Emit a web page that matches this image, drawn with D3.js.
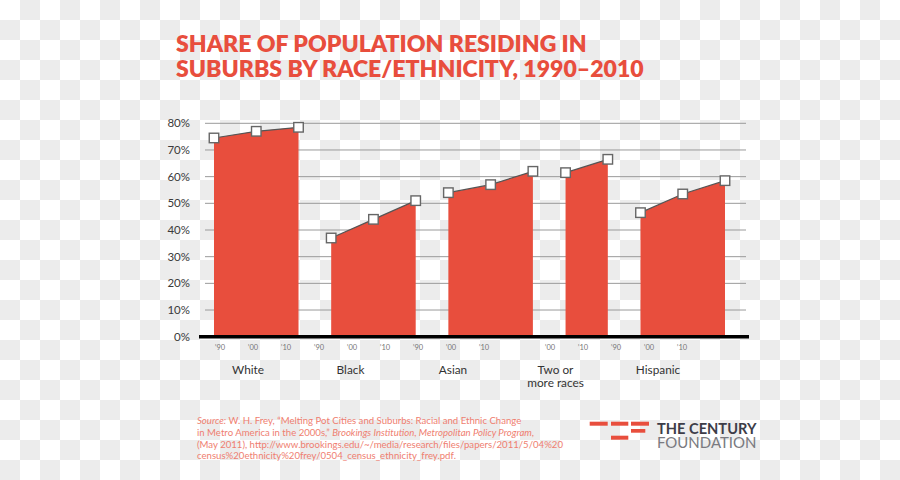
<!DOCTYPE html>
<html><head><meta charset="utf-8">
<script src="https://cdn.jsdelivr.net/npm/d3@7"></script>
<style>
html,body{margin:0;padding:0;background:#fff;}
svg{display:block;}
</style></head>
<body>
<div id="chart"></div>
<script>
// ---- data ----
const groups = ["White", "Black", "Asian", "Two or more races", "Hispanic"];
const groupLabelLines = [["White"], ["Black"], ["Asian"], ["Two or", "more races"], ["Hispanic"]];
const years = ["\u201990", "\u201900", "\u201910"];
const white = [74.5, 77, 78.5];
const black = [37, 44, 51];
const asian = [54, 57, 62];
const twoOrMore = [null, 61.5, 66.5];
const hispanic = [46.5, 53.5, 58.5];
const series = [white, black, asian, twoOrMore, hispanic];
const yTicks = [0, 10, 20, 30, 40, 50, 60, 70, 80];
const titleLines = ["SHARE OF POPULATION RESIDING IN", "SUBURBS BY RACE/ETHNICITY, 1990\u20132010"];

// ---- layout ----
const W = 900, H = 480;
const RED = "#e84e3d";
const FONT = "Lato, 'Open Sans', sans-serif";
const svg = d3.select("#chart").append("svg").attr("width", W).attr("height", H);

// checkerboard background (transparent-look)
const defs = svg.append("defs");
const pat = defs.append("pattern").attr("id", "chk").attr("patternUnits", "userSpaceOnUse")
  .attr("width", 40).attr("height", 40);
pat.append("rect").attr("width", 40).attr("height", 40).attr("fill", "#ffffff");
pat.append("rect").attr("x", 20).attr("y", 0).attr("width", 20).attr("height", 20).attr("fill", "#ececec");
pat.append("rect").attr("x", 0).attr("y", 20).attr("width", 20).attr("height", 20).attr("fill", "#ececec");
svg.append("rect").attr("width", W).attr("height", H).attr("fill", "url(#chk)");

// title
const title = svg.append("g");
titleLines.forEach((t, i) => {
  title.append("text").attr("x", 176).attr("y", 52 + i * 25)
    .attr("font-family", FONT).attr("font-weight", 800)
    .attr("font-size", 21).attr("fill", RED).text(t);
});
{
  const t0 = title.select("text").node();
  const w = t0.getComputedTextLength();
  title.selectAll("text").attr("font-size", 21 * 411 / w);
}

// y scale
const y = d3.scaleLinear().domain([0, 80]).range([336.7, 123.3]);

// grid
svg.append("g").selectAll("line").data(yTicks.filter(d => d > 0)).join("line")
  .attr("x1", 205).attr("x2", 746)
  .attr("y1", d => y(d)).attr("y2", d => y(d))
  .attr("stroke", "#9a9a9a").attr("stroke-width", 1);

// y tick labels
svg.append("g").selectAll("text").data(yTicks).join("text")
  .attr("x", 190).attr("y", d => y(d)).attr("dy", "0.35em")
  .attr("text-anchor", "end")
  .attr("font-family", FONT).attr("font-size", 11.5)
  .attr("fill", "#3a3a3a").text(d => d + "%");

// x positions for marks: within a group step 1 unit, between groups a gap
const gapUnits = 0.773;
const pts = [];
let u = 0, first = true;
series.forEach((vals, g) => {
  let started = false;
  vals.forEach((v, i) => {
    if (v == null) return;
    if (!started) { if (!first) u += gapUnits; started = true; }
    else u += 1;
    first = false;
    pts.push({ g, i, v, u });
  });
});
const x = d3.scaleLinear().domain([0, u]).range([214, 725]);

// areas + lines
const area = d3.area().x(d => x(d.u)).y0(y(0)).y1(d => y(d.v));
const line = d3.line().x(d => x(d.u)).y(d => y(d.v));
const marks = svg.append("g");
groups.forEach((name, g) => {
  const gp = pts.filter(p => p.g === g);
  marks.append("path").datum(gp).attr("d", area).attr("fill", RED);
  marks.append("path").datum(gp).attr("d", line).attr("fill", "none")
    .attr("stroke", "#555").attr("stroke-width", 1.2);
});

// baseline
svg.append("line").attr("x1", 199).attr("x2", 749).attr("y1", y(0)).attr("y2", y(0))
  .attr("stroke", "#000").attr("stroke-width", 3.4);

// square markers
const S = 9.5;
marks.selectAll("rect.m").data(pts).join("rect").attr("class", "m")
  .attr("x", d => x(d.u) - S / 2).attr("y", d => y(d.v) - S / 2)
  .attr("width", S).attr("height", S)
  .attr("fill", "#fff").attr("stroke", "#666").attr("stroke-width", 1.4);

// year tick labels: point scale over every group/year slot
const keys = [];
groups.forEach((g, gi) => years.forEach((yr, yi) => keys.push(gi + "-" + yi)));
const xl = d3.scalePoint().domain(keys).range([220, 682]);
const yearLabels = [];
series.forEach((vals, gi) => vals.forEach((v, yi) => { if (v != null) yearLabels.push({ gi, yi }); }));
svg.append("g").selectAll("text").data(yearLabels).join("text")
  .attr("x", d => xl(d.gi + "-" + d.yi)).attr("y", 350)
  .attr("text-anchor", "middle")
  .attr("font-family", FONT).attr("font-size", 7.5)
  .attr("fill", "#777").text(d => years[d.yi]);

// category labels
const xc = d3.scalePoint().domain(groups).range([248, 658]);
const cat = svg.append("g");
groupLabelLines.forEach((lines, gi) => {
  lines.forEach((l, li) => {
    cat.append("text").attr("x", xc(groups[gi])).attr("y", 374 + li * 13)
      .attr("text-anchor", "middle")
      .attr("font-family", FONT).attr("font-size", 11.8)
      .attr("fill", "#333").text(l);
  });
});

// source note
const src = svg.append("text").attr("font-family", FONT)
  .attr("font-size", 9.6).attr("fill", "#ef7e70");
const srcLines = [
  [["Source:", true], [" W. H. Frey, \u201cMelting Pot Cities and Suburbs: Racial and Ethnic Change", false]],
  [["in Metro America in the 2000s,\u201d ", false], ["Brookings Institution, Metropolitan Policy Program", true], [",", false]],
  [["(May 2011), http://www.brookings.edu/~/media/research/files/papers/2011/5/04%20", false]],
  [["census%20ethnicity%20frey/0504_census_ethnicity_frey.pdf.", false]]
];
srcLines.forEach((parts, li) => {
  parts.forEach((p, pi) => {
    const ts = src.append("tspan").text(p[0]).attr("font-style", p[1] ? "italic" : "normal");
    if (pi === 0) ts.attr("x", 197).attr("y", 424 + li * 11.8);
  });
});

// logo
const logo = svg.append("g");
const bars = [[589.7, 421.7, 18, 4], [611, 421.7, 17.3, 4], [631, 421.7, 18, 4],
              [631, 429, 14.3, 3.7], [611, 435.7, 17.3, 4]];
bars.forEach(b => logo.append("rect").attr("x", b[0]).attr("y", b[1]).attr("width", b[2]).attr("height", b[3]).attr("fill", RED));
const l1 = logo.append("text").attr("x", 657).attr("y", 433.5)
  .attr("font-family", FONT).attr("font-weight", 700).attr("font-size", 14)
  .attr("fill", "#3d3d48").text("THE CENTURY");
const l2 = logo.append("text").attr("x", 657).attr("y", 447.5)
  .attr("font-family", FONT).attr("font-weight", 400).attr("font-size", 14)
  .attr("fill", "#7a7a80").text("FOUNDATION");
[l1, l2].forEach(t => {
  const w = t.node().getComputedTextLength();
  t.attr("font-size", 14 * 99.5 / w);
});
</script>
</body></html>
